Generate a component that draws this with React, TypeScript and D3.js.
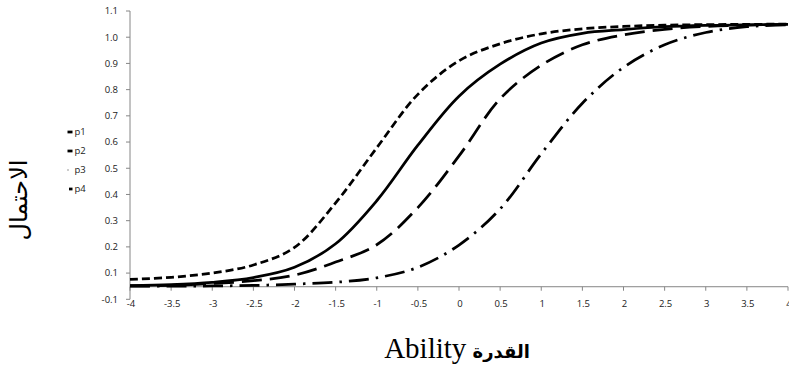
import React from 'react';
import * as d3 from 'd3';

// ability values (x) and the four item curves
const abilities = [-4, -3.5, -3, -2.5, -2, -1.5, -1, -0.5, 0, 0.5, 1, 1.5, 2, 2.5, 3, 3.5, 4];
const p1 = [0.076, 0.084, 0.1, 0.131, 0.198, 0.368, 0.578, 0.782, 0.91, 0.975, 1.013, 1.032, 1.041, 1.046, 1.048, 1.049, 1.05];
const p2 = [0.052, 0.056, 0.065, 0.083, 0.122, 0.212, 0.376, 0.588, 0.775, 0.897, 0.978, 1.015, 1.029, 1.04, 1.045, 1.047, 1.049];
const p3 = [0.051, 0.053, 0.06, 0.071, 0.092, 0.142, 0.208, 0.35, 0.547, 0.765, 0.893, 0.971, 1.009, 1.03, 1.041, 1.046, 1.048];
const p4 = [0.05, 0.05, 0.051, 0.053, 0.058, 0.065, 0.082, 0.122, 0.207, 0.345, 0.555, 0.748, 0.885, 0.971, 1.018, 1.04, 1.047];
const seriesNames = ['p1', 'p2', 'p3', 'p4'];

const xTickLabels = ['-4', '-3.5', '-3', '-2.5', '-2', '-1.5', '-1', '-0.5', '0', '0.5', '1', '1.5', '2', '2.5', '3', '3.5', '4'];
const yTickValues = [0, 0.1, 0.2, 0.3, 0.4, 0.5, 0.6, 0.7, 0.8, 0.9, 1.0, 1.1];
const yTickLabels = ['-0.1', '0.1', '0.2', '0.3', '0.4', '0.5', '0.6', '0.7', '0.8', '0.9', '1.0', '1.1'];

const W = 789;
const H = 370;
const axisFont = '"Open Sans", "Liberation Sans", Arial, sans-serif';
const axisColor = '#868686';
const xAxisAt = 0.048; // where the horizontal axis crosses

// line styles per series
const dashes = ['8,4', null, '20,8', '20,7,2.5,7'];
// legend swatch [x1, x2] per series
const swatches = [[67.5, 72.5], [67.5, 72.5], [67.6, 68.4], [69, 72.5]];

export default function App() {
  const x = d3.scaleLinear().domain([-4, 4]).range([130, 788]);
  const y = d3.scaleLinear().domain([0, 1.1]).range([299.3, 11]);

  const line = d3
    .line<number>()
    .x((_, i) => x(abilities[i]))
    .y((d) => y(d))
    .curve(d3.curveCatmullRom.alpha(0.5));

  const all = [p1, p2, p3, p4];
  const yAx = y(xAxisAt);

  return (
    <svg
      width={W}
      height={H}
      style={{ position: 'absolute', left: 0, top: 0, background: '#fff' }}
    >
      {/* y axis */}
      <line x1={130} x2={130} y1={y(1.1)} y2={y(0)} stroke={axisColor} strokeWidth={1} />
      {yTickValues.map((v, i) => (
        <g key={'yt' + i}>
          <line x1={126} x2={130} y1={y(v)} y2={y(v)} stroke={axisColor} />
          <text
            x={118}
            y={y(v)}
            dy="0.35em"
            textAnchor="end"
            fontFamily={axisFont}
            fontSize={9.5}
            fill="#1a1a1a"
          >
            {yTickLabels[i]}
          </text>
        </g>
      ))}

      {/* x axis */}
      <line x1={130} x2={788} y1={yAx} y2={yAx} stroke={axisColor} strokeWidth={1} />
      {abilities.map((v, i) => (
        <g key={'xt' + i}>
          <line x1={x(v)} x2={x(v)} y1={yAx} y2={yAx + 4} stroke={axisColor} />
          <text
            x={x(v) + 1}
            y={304}
            dy="0.35em"
            textAnchor="middle"
            fontFamily={axisFont}
            fontSize={9.5}
            fill="#1a1a1a"
          >
            {xTickLabels[i]}
          </text>
        </g>
      ))}

      {/* curves */}
      {all.map((s, i) => (
        <path
          key={seriesNames[i]}
          d={line(s) || ''}
          fill="none"
          stroke="#000"
          strokeWidth={2.75}
          strokeDasharray={dashes[i] || undefined}
        />
      ))}

      {/* legend */}
      {seriesNames.map((n, i) => (
        <g key={'lg' + n}>
          <line
            x1={swatches[i][0]}
            x2={swatches[i][1]}
            y1={132 + i * 19}
            y2={132 + i * 19}
            stroke="#000"
            strokeWidth={i === 2 ? 1.2 : 2.75}
          />
          <text x={74.5} y={132 + i * 19} dy="0.35em" fontFamily={axisFont} fontSize={9.5} fill="#1a1a1a">
            {n}
          </text>
        </g>
      ))}

      {/* axis titles */}
      <text
        transform="translate(19,200) rotate(-90)"
        textAnchor="middle"
        dy="0.35em"
        fontFamily='"DejaVu Serif", "DejaVu Sans", serif'
        fontSize={24}
        fill="#000"
      >
        الاحتمال
      </text>
      <text x={457} y={358} textAnchor="middle" fill="#000">
        <tspan fontFamily='"Liberation Serif", "Times New Roman", serif' fontSize={29}>
          Ability
        </tspan>
        <tspan fontFamily='"DejaVu Sans", serif' fontSize={18} fontWeight="bold">
          {' القدرة'}
        </tspan>
      </text>
    </svg>
  );
}
